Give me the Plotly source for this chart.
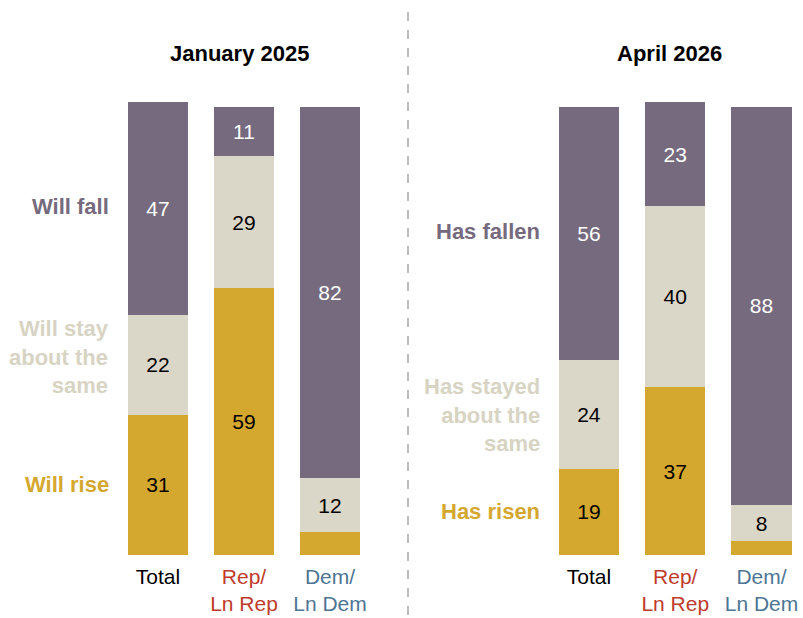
import plotly.graph_objects as go

# ---- data ----
categories = ["Total", "Rep/Ln Rep", "Dem/Ln Dem"]
tick_labels = [
    "<span style='color:#000000'>Total</span>",
    "<span style='color:#BF3B2C'>Rep/<br>Ln Rep</span>",
    "<span style='color:#4E7594'>Dem/<br>Ln Dem</span>",
]
jan_rise = [31, 59, 5]
jan_same = [22, 29, 12]
jan_fall = [47, 11, 82]
apr_rise = [19, 37, 3]
apr_same = [24, 40, 8]
apr_fall = [56, 23, 88]
panel_titles = ["January 2025", "April 2026"]
jan_labels = ["Will rise", "Will stay<br>about the<br>same", "Will fall"]
apr_labels = ["Has risen", "Has stayed<br>about the<br>same", "Has fallen"]

C_FALL = "#756A7E"
C_SAME = "#DAD7C8"
C_RISE = "#D4A72F"
C_SAME_TXT = "#D7D4C4"
FONT = "Liberation Sans"

W, H = 803, 618
fig = go.Figure()


def txt(vals):
    return [str(v) if v >= 6 else "" for v in vals]


panels = [
    ("x", "y", jan_rise, jan_same, jan_fall),
    ("x2", "y2", apr_rise, apr_same, apr_fall),
]
for xa, ya, rise, same, fall in panels:
    for vals, col, tcol in [(rise, C_RISE, "#000000"), (same, C_SAME, "#000000"), (fall, C_FALL, "#FFFFFF")]:
        fig.add_trace(go.Bar(
            x=categories, y=vals, xaxis=xa, yaxis=ya,
            marker=dict(color=col, line=dict(width=0)),
            width=0.7,
            text=txt(vals), textposition="inside", insidetextanchor="middle",
            textangle=0, textfont=dict(color=tcol, size=21, family=FONT),
            hoverinfo="skip", showlegend=False,
        ))

ydom = [(H - 555) / H, (H - 102) / H]
fig.update_layout(
    width=W, height=H, barmode="stack", bargap=0,
    margin=dict(l=0, r=0, t=0, b=0),
    paper_bgcolor="white", plot_bgcolor="white",
    uniformtext=dict(minsize=21, mode="show"),
    font=dict(family=FONT, size=21, color="#000000"),
    xaxis=dict(domain=[115 / W, 373 / W], range=[-0.5, 2.5], showgrid=False, zeroline=False,
               showline=False, ticks="", tickmode="array", tickvals=categories, ticktext=tick_labels,
               tickfont=dict(size=21, family=FONT), ticklabelstandoff=7, fixedrange=True),
    xaxis2=dict(domain=[545.9 / W, 1.0], range=[-0.5, 2.481], showgrid=False, zeroline=False,
                showline=False, ticks="", tickmode="array", tickvals=categories, ticktext=tick_labels,
                tickfont=dict(size=21, family=FONT), ticklabelstandoff=7, anchor="y2", fixedrange=True),
    yaxis=dict(domain=ydom, range=[0, 100], visible=False, fixedrange=True),
    yaxis2=dict(domain=ydom, range=[0, 100], visible=False, anchor="x2", fixedrange=True),
)

# panel titles
for title, xc in zip(panel_titles, [239 / W, 669 / W]):
    fig.add_annotation(text="<b>%s</b>" % title, xref="paper", yref="paper", x=xc, y=(H - 54) / H,
                       xanchor="center", yanchor="middle", showarrow=False,
                       font=dict(size=22, family=FONT, color="#000000"))

# side labels placed at segment centres of the Total bar
for labels, rise, same, fall, yref, xr, shifts in [
    (jan_labels, jan_rise, jan_same, jan_fall, "y", 111 / W, [0, 8, 2]),
    (apr_labels, apr_rise, apr_same, apr_fall, "y2", 542 / W, [0, 0, 2]),
]:
    centres = [rise[0] / 2, rise[0] + same[0] / 2, rise[0] + same[0] + fall[0] / 2]
    for lab, yc, col, ys in zip(labels, centres, [C_RISE, C_SAME_TXT, C_FALL], shifts):
        fig.add_annotation(text="<b>%s</b>" % lab, xref="paper", yref=yref, x=xr, y=yc,
                           xanchor="right", yanchor="middle", align="right", showarrow=False,
                           yshift=ys, font=dict(size=22, family=FONT, color=col))

# dashed divider
fig.add_shape(type="line", xref="paper", yref="paper", x0=408 / W, x1=408 / W,
              y0=(H - 615) / H, y1=(H - 6) / H,
              line=dict(color="#BDBDBD", width=2, dash="dash"))

fig.write_html("out.html", config={"displayModeBar": False, "staticPlot": True},
               post_script="document.body.style.margin='0';")
